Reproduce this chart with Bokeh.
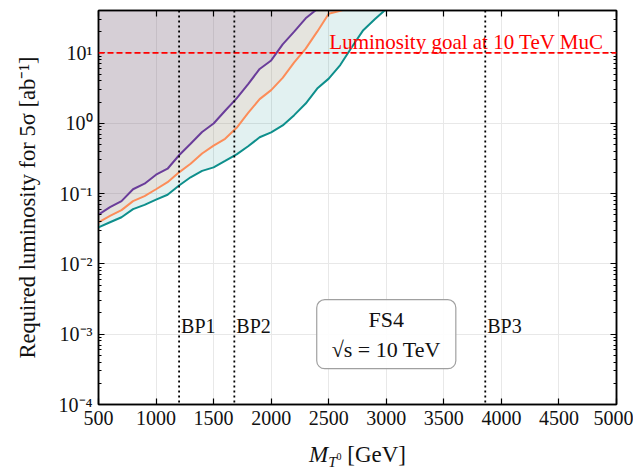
import numpy as np
from bokeh.plotting import figure
from bokeh.layouts import column
from bokeh.models import (Span, Label, LinearAxis, LogAxis, FixedTicker,
                          CustomJSTickFormatter, Range1d, Div)
from bokeh.core.properties import value
from bokeh.embed import file_html
from bokeh.resources import INLINE

# ---------------- data ----------------
mass = [500, 600, 700, 800, 900, 1000, 1100, 1200, 1300, 1400, 1500, 1600,
        1700, 1800, 1900, 2000, 2100, 2200, 2300, 2400, 2500, 2600, 2700,
        2800, 2900, 3000]
lumi_purple = [0.050, 0.064, 0.078, 0.115, 0.138, 0.185, 0.225, 0.35, 0.51,
               0.75, 0.99, 1.5, 2.25, 3.6, 5.9, 7.8, 13.2, 20, 31, 42, 60]
lumi_orange = [0.039, 0.048, 0.058, 0.078, 0.092, 0.115, 0.145, 0.20, 0.265,
               0.37, 0.48, 0.60, 0.86, 1.4, 2.2, 2.95, 4.4, 7.3, 11.5, 20,
               36, 39.5, 45]
lumi_teal = [0.033, 0.039, 0.046, 0.060, 0.069, 0.082, 0.096, 0.13, 0.17,
             0.21, 0.235, 0.29, 0.36, 0.47, 0.63, 0.74, 0.93, 1.3, 1.9, 3.1,
             4.3, 6.7, 12, 21, 30, 42]
bp_names = ["BP1", "BP2", "BP3"]
bp_mass = [1200, 1680, 3860]
lumi_goal = 10
goal_text = "Luminosity goal at 10 TeV MuC"
x_ticks = [500, 1000, 1500, 2000, 2500, 3000, 3500, 4000, 4500, 5000]
y_ticks = [1e-4, 1e-3, 1e-2, 1e-1, 1e0, 1e1]
y_minor = [k * 10.0 ** e for e in range(-4, 2) for k in range(2, 10)]
x_range = (500, 5000)
y_range = (1e-4, 40)
YTOP = 1e4

FONT = "Liberation Serif"
INK = "#111111"
PURPLE = "#6a3d9a"
ORANGE = "#fc8d59"
TEAL = "#0e8f8c"

p = figure(width=633, height=440, output_backend="svg", toolbar_location=None,
           x_range=Range1d(*x_range), y_range=Range1d(*y_range),
           y_axis_type="log", min_border_left=98, min_border_right=17,
           min_border_top=10, min_border_bottom=36)
p.background_fill_color = "white"
p.border_fill_color = "white"
p.outline_line_color = "black"
p.outline_line_width = 1.5

# grid
for g in (p.xgrid, p.ygrid):
    g.grid_line_color = "#e8e8e8"
    g.grid_line_width = 1
p.xgrid.ticker = FixedTicker(ticks=x_ticks)
p.ygrid.ticker = FixedTicker(ticks=y_ticks)

# fills (each curve to the top, light alpha, stacked)
curves = [(lumi_teal, TEAL), (lumi_orange, ORANGE), (lumi_purple, PURPLE)]
for vals, col in curves:
    xs = mass[:len(vals)]
    p.varea(x=xs, y1=vals, y2=[YTOP] * len(vals), fill_color=col,
            fill_alpha=0.12)
for vals, col in curves:
    xs = mass[:len(vals)]
    p.line(x=xs, y=vals, line_color=col, line_width=2)

# goal line
p.add_layout(Span(location=lumi_goal, dimension="width", line_color="red",
                  line_dash="6 3", line_width=1.8))
p.text(x=[2505], y=[lumi_goal], text=[goal_text], text_color="red",
       text_font=value(FONT), text_font_size="21px",
       text_baseline="bottom", y_offset=1)

# benchmark lines
for bx in bp_mass:
    p.add_layout(Span(location=bx, dimension="height", line_color="black",
                      line_dash="2 3", line_width=1.8))
p.text(x=bp_mass, y=[1.3e-3] * 3, text=bp_names, text_color=INK,
       text_font=value(FONT), text_font_size="20px", text_baseline="middle",
       x_offset=2)

# info box
p.add_layout(Label(x=3000, y=1.0e-3, text="FS4\n√s = 10 TeV",
                   text_align="center", text_baseline="middle",
                   text_font=FONT, text_font_size="22px", text_color=INK,
                   background_fill_color="white", background_fill_alpha=0.9,
                   border_line_color="#a0a0a0", border_line_width=1.2,
                   padding=dict(left=15, right=15, top=7, bottom=7),
                   border_radius=8))

# axes
xa = p.xaxis[0]
xa.ticker = FixedTicker(ticks=x_ticks)
ya = p.yaxis[0]
ya.ticker = FixedTicker(ticks=y_ticks, minor_ticks=y_minor)
ya.formatter = CustomJSTickFormatter(code="""
const sup = {"-":"\u207b","0":"\u2070","1":"\u00b9","2":"\u00b2","3":"\u00b3",
             "4":"\u2074","5":"\u2075","6":"\u2076","7":"\u2077","8":"\u2078","9":"\u2079"};
const e = Math.round(Math.log10(tick));
return "10" + String(e).split("").map(c => sup[c]).join("");
""")
ya.axis_label = "Required luminosity for 5σ [ab⁻¹]"
ya.axis_label_text_font = FONT
ya.axis_label_text_font_style = "normal"
ya.axis_label_text_font_size = "22.5px"
ya.axis_label_text_color = INK
ya.axis_label_standoff = 16
xa.axis_label = None

empty = CustomJSTickFormatter(code="return '';")
top = LinearAxis(ticker=FixedTicker(ticks=x_ticks), formatter=empty)
right = LogAxis(ticker=FixedTicker(ticks=y_ticks, minor_ticks=y_minor),
                formatter=empty)
p.add_layout(top, "above")
p.add_layout(right, "right")

for ax in (xa, ya, top, right):
    ax.axis_line_width = 1.5
    ax.axis_line_color = "black"
    ax.major_tick_in = 6
    ax.major_tick_out = 0
    ax.major_tick_line_width = 1.2
    ax.minor_tick_in = 3
    ax.minor_tick_out = 0
    ax.major_label_text_font = FONT
    ax.major_label_text_font_size = "20px"
    ax.major_label_text_color = INK
for ax in (xa, top):
    ax.minor_tick_line_color = None
for ax in (top, right):
    ax.major_label_standoff = 0
xa.major_label_standoff = 6
ya.major_label_standoff = 6

# x axis label: M_{T^0} [GeV]
xlabel = Div(
    text=("<div style=\"font-family:'Liberation Serif',serif;font-size:23px;"
          "color:#111;white-space:nowrap;margin-left:309px;line-height:29px;\">"
          "<i>M</i><sub style=\"font-size:15px;vertical-align:-5px;\"><i>T</i>"
          "<sup style=\"font-size:10px;vertical-align:7px;\">0</sup></sub>"
          "&nbsp;[GeV]</div>"),
    width=633, height=29, margin=0)

layout = column(p, xlabel, spacing=0)
open("out.html", "w", encoding="utf-8").write(file_html(layout, INLINE))
